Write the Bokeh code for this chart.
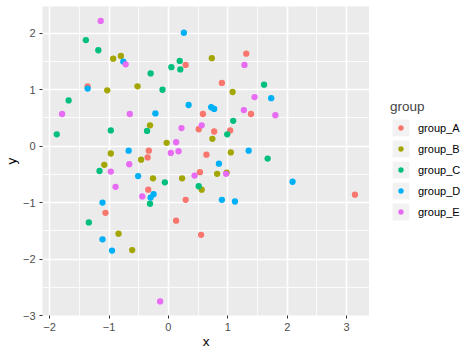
from bokeh.plotting import figure
from bokeh.layouts import row
from bokeh.models import Range1d, FixedTicker, Legend, LegendItem
from bokeh.embed import file_html
from bokeh.resources import INLINE

groups = ["group_A", "group_B", "group_C", "group_D", "group_E"]
colors = ["#F8766D", "#A3A500", "#00BF7D", "#00B0F6", "#E76BF3"]

a_x = [-1.36, -0.33, -0.35, 0.29, 0.90, 0.58, 1.39, 0.51, 0.77, 1.04, 0.64, 1.31, 3.14, -1.06, -0.34, 0.53, 0.29, 0.13, 0.55]
a_y = [1.06, -0.08, -0.20, 1.44, 1.12, 0.57, 0.57, 0.30, 0.26, 0.28, -0.15, 1.64, -0.86, -1.18, -0.77, -0.46, -0.95, -1.32, -1.57]

b_x = [-0.93, -0.80, -1.03, -0.52, -0.31, -0.97, -0.46, 0.73, 1.08, 0.74, -0.03, 1.05, -1.08, -0.84, -0.61, -0.26, 0.23, 0.82, 0.98, 0.56]
b_y = [1.55, 1.60, 0.99, 1.06, 0.37, -0.13, -0.24, 1.56, 0.96, 0.13, 0.06, -0.11, -0.33, -1.55, -1.84, -0.57, -0.57, -0.49, -0.47, -0.77]

c_x = [-1.39, -1.18, -0.30, -1.68, -1.88, -0.97, -0.36, 0.19, 0.05, 0.20, -0.10, 1.09, 0.99, 1.61, 1.67, -1.16, -0.31, -1.34, -0.06, 0.51]
c_y = [1.88, 1.70, 1.29, 0.81, 0.21, 0.28, 0.27, 1.51, 1.40, 1.36, 1.00, 0.45, 0.21, 1.09, -0.22, -0.44, -1.02, -1.35, -0.64, -0.71]

d_x = [-0.76, -1.36, -0.67, 0.26, 0.34, -0.22, 0.72, 0.77, 1.73, 1.35, 2.09, -0.51, -0.25, -0.30, -1.11, -1.11, -0.95, 0.85, 0.90, 1.12]
d_y = [1.50, 1.02, -0.08, 2.01, 0.73, 0.58, 0.69, 0.66, 0.85, -0.08, -0.63, -0.53, -0.85, -0.91, -1.00, -1.65, -1.85, -0.31, -0.95, -0.98]

e_x = [-1.14, -0.72, -1.79, -0.65, 1.27, 0.22, 0.56, 0.13, 0.04, 0.17, 1.28, 1.45, 1.80, -0.66, -0.97, -0.89, -0.44, 0.44, 0.97, -0.14]
e_y = [2.22, 1.45, 0.57, 0.57, 0.64, 0.32, 0.37, 0.07, -0.12, -0.09, 1.44, 0.87, 0.55, -0.32, -0.45, -0.72, -0.89, -0.52, -0.49, -2.75]

x_ticks = [-2, -1, 0, 1, 2, 3]
x_minor = [-2.5, -1.5, -0.5, 0.5, 1.5, 2.5, 3.5]
y_ticks = [-3, -2, -1, 0, 1, 2]
y_minor = [-3.5, -2.5, -1.5, -0.5, 0.5, 1.5, 2.5]

xs = [a_x, b_x, c_x, d_x, e_x]
ys = [a_y, b_y, c_y, d_y, e_y]

FONT = "Liberation Sans"
NAN = float("nan")

p = figure(width=369, height=355, output_backend="svg", toolbar_location=None,
           x_range=Range1d(-2.12, 3.385), y_range=Range1d(-3.0, 2.475),
           min_border_left=38, min_border_right=0, min_border_top=6, min_border_bottom=40)
p.background_fill_color = "#EBEBEB"
p.border_fill_color = "white"
p.outline_line_color = None

xt = FixedTicker(ticks=x_ticks, minor_ticks=x_minor)
yt = FixedTicker(ticks=y_ticks, minor_ticks=y_minor)
p.xaxis.ticker = xt
p.yaxis.ticker = yt
p.xgrid.ticker = xt
p.ygrid.ticker = yt
for g in (p.xgrid, p.ygrid):
    g.grid_line_color = "white"
    g.grid_line_width = 1.6
    g.minor_grid_line_color = "white"
    g.minor_grid_line_width = 0.8

for ax in (p.xaxis, p.yaxis):
    ax.axis_line_color = None
    ax.major_tick_line_color = "#333333"
    ax.major_tick_line_width = 1
    ax.major_tick_out = 3
    ax.major_tick_in = 0
    ax.minor_tick_line_color = None
    ax.major_label_text_color = "#4D4D4D"
    ax.major_label_text_font = FONT
    ax.major_label_text_font_size = "11px"
    ax.major_label_standoff = 3
    ax.axis_label_text_font = FONT
    ax.axis_label_text_font_size = "13.5px"
    ax.axis_label_text_font_style = "normal"
    ax.axis_label_text_color = "black"
p.xaxis.axis_label_standoff = 0
p.yaxis.axis_label_standoff = 1
p.xaxis.axis_label = "x"
p.yaxis.axis_label = "y"

for name, col, gx, gy in zip(groups, colors, xs, ys):
    p.scatter(gx, gy, size=6.3, fill_color=col, line_color=None)

# legend panel
q = figure(width=105, height=355, output_backend="svg", toolbar_location=None,
           x_range=Range1d(0, 1), y_range=Range1d(0, 1),
           x_axis_type=None, y_axis_type=None,
           min_border_left=0, min_border_right=0, min_border_top=0, min_border_bottom=0)
q.outline_line_color = None
q.background_fill_color = "white"
q.border_fill_color = "white"
q.xgrid.visible = False
q.ygrid.visible = False

bg = q.quad(left=[NAN], right=[NAN], top=[NAN], bottom=[NAN], fill_color="#F2F2F2", line_color=None)
items = []
for name, col in zip(groups, colors):
    leg = q.scatter([NAN], [NAN], fill_color=col, line_color="#F2F2F2", line_width=3)
    items.append(LegendItem(label=name, renderers=[bg, leg]))

legend = Legend(items=items, title="group", location=(21, 93),
                glyph_width=21, glyph_height=21, label_height=21, spacing=0,
                label_standoff=7, padding=5, margin=0,
                label_text_font=FONT, label_text_font_size="11px", label_text_color="black",
                title_text_font=FONT, title_text_font_size="13.5px", title_text_font_style="normal",
                title_standoff=3,
                background_fill_alpha=0, border_line_color=None)
q.add_layout(legend)

layout = row(p, q, spacing=0)
open("out.html", "w").write(file_html(layout, INLINE))
